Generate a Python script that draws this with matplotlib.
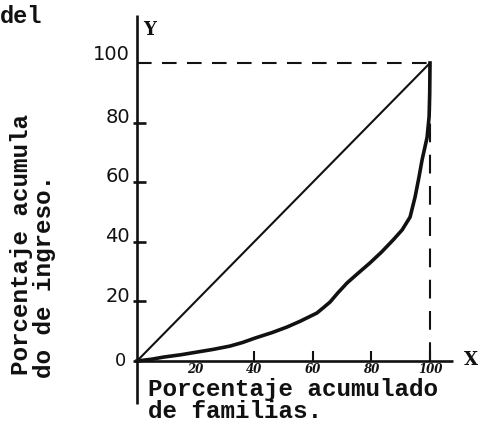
import matplotlib
matplotlib.use("Agg")
import matplotlib.pyplot as plt

# ---- data ----
lorenz_x = [0, 5, 9, 15, 20.5, 26, 31.7, 36, 40.3, 46, 51.2, 55.6, 61.4, 63.5, 65.9, 68.5,
            71.7, 75.5, 79.5, 83.5, 87.4, 90.5, 93.2, 94.9, 96.2, 97.3, 99.0, 99.7, 99.9, 100]
lorenz_y = [0, 0.6, 1.3, 2.1, 3.0, 3.9, 5.0, 6.2, 7.7, 9.5, 11.4, 13.3, 16.1, 17.8, 19.8, 22.8,
            26.2, 29.5, 32.9, 36.6, 40.6, 44.0, 48.3, 55.0, 61.5, 67.5, 75.0, 82.0, 90.0, 100]
equality_x = [0, 100]
equality_y = [0, 100]
y_ticks = [20, 40, 60, 80]
y_tick_labels = ["20", "40", "60", "80"]
x_ticks = [20, 40, 60, 80, 100]
x_tick_labels = ["20", "40", "60", "80", "100"]
x_tick_marks = [40, 60, 80, 100]

W, H, DPI = 480, 426, 100
fig = plt.figure(figsize=(W / DPI, H / DPI), dpi=DPI, facecolor="white")
ax = fig.add_axes([0, 0, 1, 1])
# pixel mapping: x=0 -> px 137, 2.93 px/unit ; y=0 -> py 361, 2.98 px/unit
x0, sx = 137.0, 2.93
y0, sy = 361.0, 2.98
ax.set_xlim(-x0 / sx, (W - x0) / sx)
ax.set_ylim(-(H - y0) / sy, y0 / sy)
ax.axis("off")

ink = "#111111"
mono = "Liberation Mono"

# axes
ax.plot([0, 0], [-14.5, 116], color=ink, lw=1.9, solid_capstyle="butt")
ax.plot([-1.5, 108], [0, 0], color=ink, lw=1.9, solid_capstyle="butt")

# y tick marks
for t in y_ticks:
    ax.plot([-1.2, 3.2], [t, t], color=ink, lw=1.9, solid_capstyle="butt")
# x tick marks
for t in x_tick_marks:
    ax.plot([t, t], [0, 3.5], color=ink, lw=1.5, solid_capstyle="butt")

# dashed reference lines
ax.plot([0, 100], [100, 100], color=ink, lw=1.5, dashes=(7, 5))
ax.plot([100, 100], [0, 100], color=ink, lw=1.5, dashes=(9, 6))

# line of equality and Lorenz curve
ax.plot(equality_x, equality_y, color=ink, lw=1.5)
ax.plot(lorenz_x, lorenz_y, color=ink, lw=2.6, solid_joinstyle="round")

# y tick labels
ax.text(-2.4, 103, "100", ha="right", va="center", fontsize=14, color=ink, family="DejaVu Sans")
for t, lab in zip(y_ticks, y_tick_labels):
    ax.text(-2.4, t + 1.8, lab, ha="right", va="center", fontsize=14, color=ink, family="DejaVu Sans")
ax.text(-5.8, 0, "0", ha="center", va="center", fontsize=13, color=ink, family="DejaVu Sans")

# x tick labels (handwritten style)
for t, lab in zip(x_ticks, x_tick_labels):
    ax.text(t, -3.0, lab, ha="center", va="center", fontsize=8.5, color=ink,
            family="DejaVu Serif", style="italic", fontweight="bold")

# axis letters
ax.text(4.2, 111, "Y", ha="center", va="center", fontsize=13, color=ink,
        family="DejaVu Serif", fontweight="bold")
ax.text(114, 0.3, "X", ha="center", va="center", fontsize=13, color=ink,
        family="DejaVu Serif", fontweight="bold")

# x-axis title
ax.text(3.6, -9.6, "Porcentaje acumulado", ha="left", va="center", fontsize=17.5,
        color=ink, family=mono, fontweight="bold")
ax.text(3.6, -16.8, "de familias.", ha="left", va="center", fontsize=17.5,
        color=ink, family=mono, fontweight="bold")

# y-axis title (two rotated columns)
ax.text(-39.5, -4.8, "Porcentaje acumula", rotation=90, rotation_mode="anchor",
        ha="left", va="center", fontsize=17.5, color=ink, family=mono, fontweight="bold")
ax.text(-31.4, -5.8, "do de ingreso.", rotation=90, rotation_mode="anchor",
        ha="left", va="center", fontsize=17.5, color=ink, family=mono, fontweight="bold")

# fragment of caption at top-left
ax.text(-x0 / sx, 115.7, "del", ha="left", va="center", fontsize=17,
        color=ink, family=mono, fontweight="bold")

fig.savefig("out.png", dpi=DPI, facecolor="white")
